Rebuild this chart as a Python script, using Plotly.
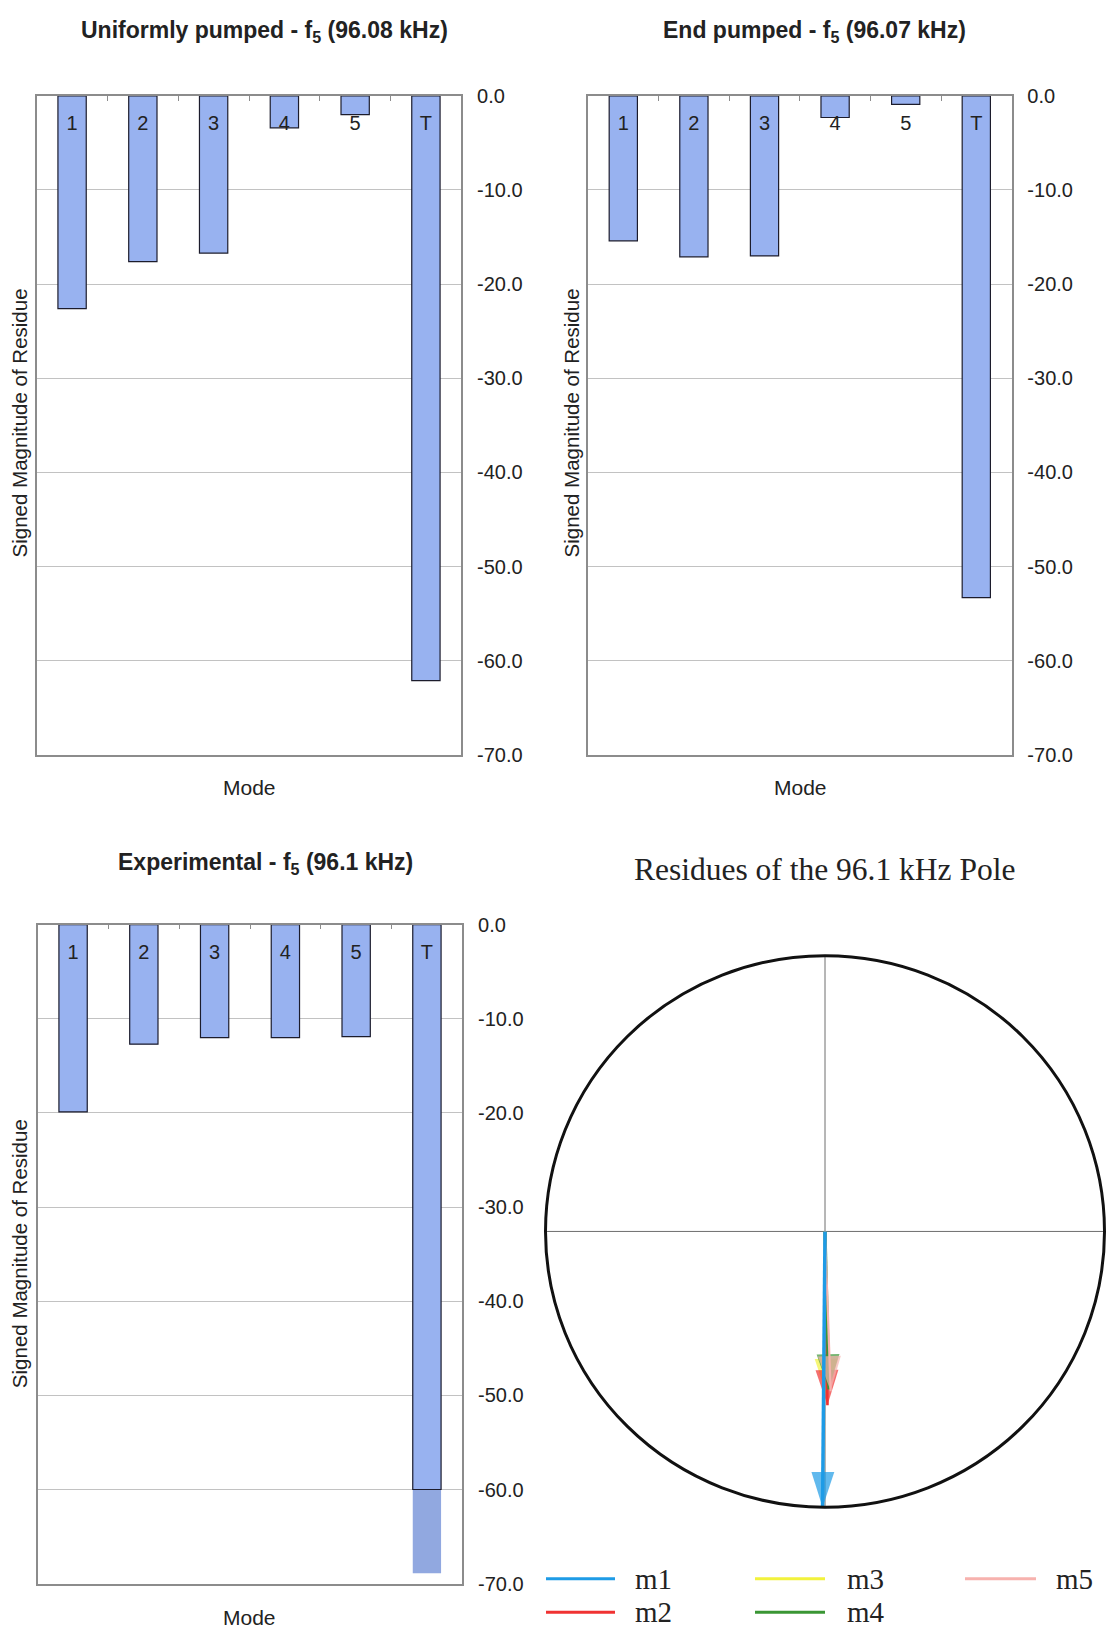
import math
import plotly.graph_objects as go

W, H = 1108, 1644

# ---- residue data -------------------------------------------------------
modes = ["1", "2", "3", "4", "5", "T"]
uniform_residue = [-22.6, -17.6, -16.7, -3.4, -2.0, -62.1]
end_residue = [-15.4, -17.1, -17.0, -2.3, -0.9, -53.3]
experimental_residue = [-19.9, -12.7, -12.0, -12.0, -11.9, -68.9]
experimental_outline_limit = -60.0   # outlined part of the experimental bars stops here

y_ticks = [0, -10, -20, -30, -40, -50, -60, -70]
y_tick_labels = ["0.0", "-10.0", "-20.0", "-30.0", "-40.0", "-50.0", "-60.0", "-70.0"]
label_level = -3.1   # height of the mode labels inside the bars

# phasor residues of the 96.1 kHz pole (normalised magnitude, angle in degrees)
series = ["m1", "m2", "m3", "m4", "m5"]
residue_magnitude = [1.0, 0.63, 0.59, 0.573, 0.58]
residue_angle_deg = [-90.5, -89.2, -89.5, -88.6, -88.0]
series_colors = ["#1e9be6", "#f03232", "#f2f23c", "#3a9634", "#f7b2ae"]
series_widths = [3.5, 2.6, 2.6, 3.2, 2.2]
draw_order = ["m3", "m2", "m4", "m5", "m1"]

BAR = "#98b2f0"
BAR_LOW = "#91a8e0"
EDGE = "#1c1c2c"
FRAME = "#8c8c8c"
GRID = "#c2c2c2"
SANS = "Liberation Sans, Arial, sans-serif"
SERIF = "Liberation Serif, Times New Roman, serif"
TXT = "#222222"


def xp(px):
    return px / W


def yp(py):
    return 1 - py / H


fig = go.Figure()

panels = [
    dict(xa="x", ya="y", values=uniform_residue,
         xdom=(36.7, 461.3), ydom=(86, 754),
         title="<b>Uniformly pumped - f<sub>5</sub> (96.08 kHz)</b>", title_xy=(264, 21),
         ytitle_xy=(19, 418), mode_xy=(249, 787)),
    dict(xa="x2", ya="y2", values=end_residue,
         xdom=(588, 1011.6), ydom=(86, 754),
         title="<b>End pumped - f<sub>5</sub> (96.07 kHz)</b>", title_xy=(814, 21),
         ytitle_xy=(571, 418), mode_xy=(800, 787)),
    dict(xa="x3", ya="y3", values=experimental_residue,
         xdom=(37.7, 462.3), ydom=(926, 1594),
         title="<b>Experimental - f<sub>5</sub> (96.1 kHz)</b>", title_xy=(265, 864),
         ytitle_xy=(19, 1260), mode_xy=(250, 1628)),
]

positions = list(range(len(modes)))
annotations = []
layout_axes = {}

for i, p in enumerate(panels):
    vals = p["values"]
    if p["xa"] == "x3":
        # full-length bars in the lighter shade, outlined bars on top down to the limit
        fig.add_trace(go.Bar(
            x=positions, y=vals, width=0.4, xaxis=p["xa"], yaxis=p["ya"],
            marker=dict(color=BAR_LOW, line=dict(width=0)), showlegend=False,
            hoverinfo="skip"))
        vals = [max(v, experimental_outline_limit) for v in vals]
    fig.add_trace(go.Bar(
        x=positions, y=vals, width=0.4, xaxis=p["xa"], yaxis=p["ya"],
        marker=dict(color=BAR, line=dict(color=EDGE, width=1.2)), showlegend=False))
    fig.add_trace(go.Scatter(
        x=positions, y=[label_level] * len(modes), mode="text", text=modes,
        textfont=dict(family=SANS, size=20, color=TXT), xaxis=p["xa"], yaxis=p["ya"],
        showlegend=False, hoverinfo="skip"))

    suffix = "" if i == 0 else str(i + 1)
    layout_axes["xaxis" + suffix] = dict(
        domain=[xp(p["xdom"][0]), xp(p["xdom"][1])], range=[-0.5, 5.5],
        anchor="y" + suffix, side="top", showline=True, mirror=True,
        linecolor=FRAME, linewidth=1.5, ticks="inside", ticklen=5, tickcolor=FRAME,
        tickvals=[k + 0.5 for k in positions[:-1]], showticklabels=False,
        showgrid=False, zeroline=False)
    layout_axes["yaxis" + suffix] = dict(
        domain=[yp(p["ydom"][1]), yp(p["ydom"][0])], range=[-70, 0],
        anchor="x" + suffix, side="right", tickvals=y_ticks, ticktext=y_tick_labels,
        showgrid=True, gridcolor=GRID, gridwidth=1, zeroline=False, showline=True,
        mirror=True, linecolor=FRAME, linewidth=1.5, ticks="", ticklabelstandoff=10,
        tickfont=dict(family=SANS, size=20, color=TXT))

    annotations.append(dict(
        text=p["title"], x=xp(p["title_xy"][0]), y=yp(p["title_xy"][1]),
        xref="paper", yref="paper", showarrow=False, xanchor="center", yanchor="middle",
        font=dict(family=SANS, size=23, color=TXT)))
    annotations.append(dict(
        text="Signed Magnitude of Residue", x=xp(p["ytitle_xy"][0]), y=yp(p["ytitle_xy"][1]),
        xref="paper", yref="paper", showarrow=False, textangle=-90,
        xanchor="center", yanchor="middle", font=dict(family=SANS, size=20.5, color=TXT)))
    annotations.append(dict(
        text="Mode", x=xp(p["mode_xy"][0]), y=yp(p["mode_xy"][1]),
        xref="paper", yref="paper", showarrow=False, xanchor="center", yanchor="middle",
        font=dict(family=SANS, size=21, color=TXT)))

# ---- phasor diagram ------------------------------------------------------
cx, cy, rad = 825, 1237, 279.5
lim = 1.01
layout_axes["xaxis4"] = dict(
    domain=[xp(cx - rad * lim), xp(cx + rad * lim)], range=[-lim, lim],
    anchor="y4", visible=False)
layout_axes["yaxis4"] = dict(
    domain=[yp(cy + rad * lim), yp(cy - rad * lim)], range=[-lim, lim],
    anchor="x4", visible=False)

shapes = [
    dict(type="line", xref="x4", yref="y4", x0=-1, y0=0, x1=1, y1=0,
         line=dict(color="#6e6e6e", width=1), layer="below"),
    dict(type="line", xref="x4", yref="y4", x0=0, y0=-1, x1=0, y1=1,
         line=dict(color="#6e6e6e", width=1), layer="below"),
    dict(type="circle", xref="x4", yref="y4", x0=-1, y0=-1, x1=1, y1=1,
         line=dict(color="#111111", width=3)),
]

for name in draw_order:
    k = series.index(name)
    th = math.radians(residue_angle_deg[k])
    tip_x = residue_magnitude[k] * math.cos(th)
    tip_y = residue_magnitude[k] * math.sin(th)
    head_angle = 90 - residue_angle_deg[k]
    fig.add_trace(go.Scatter(
        x=[0, tip_x], y=[0, tip_y], xaxis="x4", yaxis="y4", mode="lines+markers",
        line=dict(color=series_colors[k], width=series_widths[k]),
        marker=dict(symbol=["circle", "arrow"], size=[0, 37], angle=[0, head_angle],
                    color=series_colors[k], line=dict(width=0)),
        cliponaxis=False, showlegend=False, name=name))

annotations.append(dict(
    text="Residues of the 96.1 kHz Pole", x=xp(824.5), y=yp(870), xref="paper",
    yref="paper", showarrow=False, xanchor="center", yanchor="middle",
    font=dict(family=SERIF, size=31.5, color=TXT)))

# legend, arranged in columns
legend_cols = [(546, 615, 633), (755, 825, 845), (965, 1036, 1054)]
legend_rows = [1589, 1623]
for k, name in enumerate(series):
    col, row = divmod(k, 2)
    x0, x1, tx = legend_cols[col]
    ly = legend_rows[row]
    shapes.append(dict(type="line", xref="paper", yref="paper", x0=xp(x0), x1=xp(x1),
                       y0=yp(ly), y1=yp(ly), line=dict(color=series_colors[k], width=3)))
    annotations.append(dict(
        text=name, x=xp(tx), y=yp(ly), xref="paper", yref="paper", showarrow=False,
        xanchor="left", yanchor="middle", font=dict(family=SERIF, size=29, color=TXT)))

fig.update_layout(
    width=W, height=H, margin=dict(l=0, r=0, t=0, b=0),
    paper_bgcolor="white", plot_bgcolor="white", barmode="overlay",
    showlegend=False, annotations=annotations, shapes=shapes, **layout_axes)

fig.write_html("out.html")
